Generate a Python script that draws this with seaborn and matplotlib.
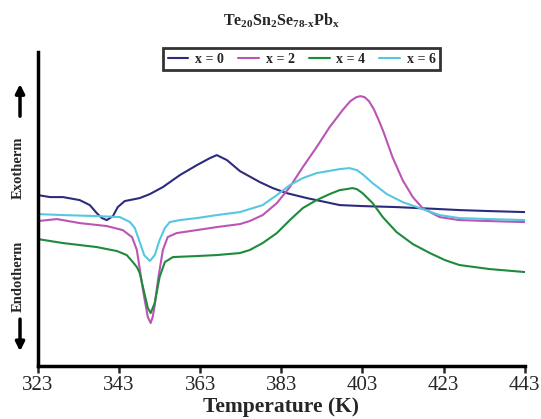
import pandas as pd
import matplotlib
matplotlib.use("Agg")
import matplotlib.pyplot as plt
import seaborn as sns

# DSC traces (temperature in K, heat flow in arbitrary units)
temp_x0 = [323.0, 326.0, 329.2, 333.3, 335.8, 337.5, 338.8, 340.0, 341.5, 342.7, 344.4,
           348.1, 350.6, 353.8, 358.0, 362.2, 365.4, 367.1, 369.6, 372.8, 377.7, 380.9,
           384.3, 389.3, 397.4, 403.0, 411.4, 422.0, 426.9, 434.3, 443.0]
flow_x0 = [171, 169, 169, 166, 161, 153, 148, 146, 150, 159, 165,
           168, 172, 179, 191, 201, 208, 211, 206, 195, 184, 178,
           173, 168, 161, 160, 159, 157, 156, 155, 154]

temp_x2 = [323.0, 327.7, 333.3, 340.0, 343.9, 346.2, 347.4, 348.9, 349.6, 350.1, 350.8,
           351.3, 351.8, 352.6, 353.8, 355.0, 357.2, 362.2, 367.1, 372.8, 375.2, 378.4,
           381.9, 385.1, 388.3, 391.7, 394.9, 398.1, 400.0, 401.5, 402.5, 403.5, 404.6,
           405.8, 407.0, 408.2, 410.4, 412.9, 415.4, 417.8, 422.0, 426.9, 434.3, 443.0]
flow_x2 = [145, 147, 143, 140, 136, 129, 116, 76, 60, 49, 43,
           49, 61, 86, 116, 129, 133, 136, 139, 142, 145, 151,
           163, 179, 199, 219, 239, 256, 265, 269, 270, 269, 265,
           257, 246, 234, 209, 186, 169, 158, 149, 146, 145, 144]

temp_x4 = [323.0, 329.2, 337.5, 342.5, 344.9, 346.4, 347.4, 348.1, 348.9, 350.1, 350.8,
           351.8, 353.0, 354.3, 356.3, 362.2, 367.1, 372.8, 375.2, 378.4, 381.9, 385.1,
           388.3, 391.7, 394.9, 397.4, 399.1, 400.5, 401.6, 403.0, 405.5, 408.0, 411.4,
           415.4, 419.6, 423.3, 426.9, 434.3, 443.0]
flow_x4 = [127, 123, 119, 115, 111, 104, 99, 93, 79, 58, 53,
           63, 89, 104, 109, 110, 111, 113, 116, 123, 133, 146,
           158, 166, 172, 176, 177, 178, 177, 173, 163, 149, 134,
           122, 113, 106, 101, 97, 94]

temp_x6 = [323.0, 329.2, 337.5, 343.2, 345.7, 346.9, 348.1, 349.2, 350.6, 351.8, 353.0,
           354.3, 355.5, 358.0, 362.2, 367.1, 372.8, 378.4, 381.9, 385.1, 388.3, 391.7,
           397.4, 399.8, 401.6, 403.0, 405.5, 409.0, 412.9, 417.1, 422.0, 426.9, 434.3, 443.0]
flow_x6 = [152, 151, 150, 149, 144, 138, 124, 111, 105, 111, 126,
           138, 144, 146, 148, 151, 154, 161, 171, 181, 188, 193,
           197, 198, 196, 192, 183, 172, 164, 158, 151, 148, 147, 146]

labels = ["x = 0", "x = 2", "x = 4", "x = 6"]
colors = ["#2d2b7e", "#bb55b5", "#1f8a3c", "#55c8e0"]
x_ticks = [323, 343, 363, 383, 403, 423, 443]

frames = []
for lab, t, f in zip(labels, [temp_x0, temp_x2, temp_x4, temp_x6],
                     [flow_x0, flow_x2, flow_x4, flow_x6]):
    frames.append(pd.DataFrame({"T": t, "flow": f, "sample": lab}))
data = pd.concat(frames, ignore_index=True)

sns.set_style("ticks")
plt.rcParams["font.family"] = ["Liberation Serif", "DejaVu Serif"]
plt.rcParams["mathtext.fontset"] = "custom"
plt.rcParams["mathtext.rm"] = "Liberation Serif"
plt.rcParams["mathtext.bf"] = "Liberation Serif:bold"

fig = plt.figure(figsize=(5.41, 4.19), dpi=100)
ax = fig.add_axes([0.070, 0.1265, 0.900, 0.749])

sns.lineplot(data=data, x="T", y="flow", hue="sample", palette=colors,
             estimator=None, sort=False, linewidth=1.5, ax=ax)

ax.set_xlim(323, 443)
ax.set_ylim(0, 314)
ax.set_xticks(x_ticks)
ax.set_xticklabels([str(t) for t in x_ticks], fontsize=15)
ax.set_yticks([])
ax.set_xlabel("Temperature (K)", fontsize=15.5, fontweight="bold", labelpad=2)
ax.set_ylabel("")
for side in ["top", "right"]:
    ax.spines[side].set_visible(False)
for side in ["left", "bottom"]:
    ax.spines[side].set_linewidth(2.5)
    ax.spines[side].set_color("black")
ax.tick_params(axis="x", length=5, width=1.8, direction="out", pad=2)

ax.set_title(r"$\mathbf{Te_{20}Sn_{2}Se_{78\text{-}x}Pb_{x}}$", fontsize=11.5, pad=19)

handles, _ = ax.get_legend_handles_labels()
leg = ax.legend(handles, labels, loc="center", bbox_to_anchor=(0.542, 0.978),
                ncol=4, frameon=True, fancybox=False, edgecolor="black",
                prop={"weight": "bold", "size": 10}, handlelength=1.5,
                handletextpad=0.5, columnspacing=1.0, borderpad=0.3)
leg.get_frame().set_linewidth(2)

fig.text(0.034, 0.60, "Exotherm", rotation=90, ha="center", va="center",
         fontsize=10.5, fontweight="bold")
fig.text(0.034, 0.34, "Endotherm", rotation=90, ha="center", va="center",
         fontsize=10.5, fontweight="bold")
arrow = dict(arrowstyle="-|>", lw=2.5, color="black", mutation_scale=13)
ax.annotate("", xy=(0.037, 0.806), xytext=(0.037, 0.716),
            xycoords="figure fraction", textcoords="figure fraction", arrowprops=arrow)
ax.annotate("", xy=(0.037, 0.155), xytext=(0.037, 0.245),
            xycoords="figure fraction", textcoords="figure fraction", arrowprops=arrow)

fig.savefig("out.png", dpi=100)
